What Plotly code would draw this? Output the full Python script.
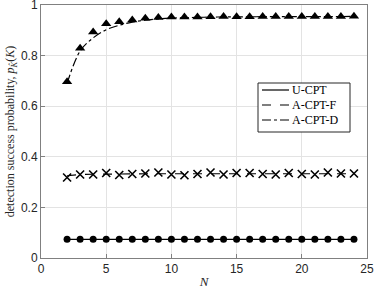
import plotly.graph_objects as go

N = list(range(2, 25))
u_cpt = [0.074] * 23
a_cpt_f_markers = [0.318, 0.330, 0.330, 0.336, 0.328, 0.332, 0.334, 0.338, 0.330, 0.327, 0.332,
                   0.338, 0.330, 0.336, 0.336, 0.332, 0.330, 0.336, 0.332, 0.330, 0.338, 0.334, 0.334]
a_cpt_f_line = [0.325, 0.330, 0.331, 0.332, 0.332, 0.333, 0.333, 0.333, 0.333, 0.333, 0.333,
                0.333, 0.333, 0.333, 0.333, 0.333, 0.333, 0.333, 0.333, 0.333, 0.333, 0.333, 0.333]
a_cpt_d_markers = [0.697, 0.829, 0.893, 0.926, 0.934, 0.941, 0.948, 0.951, 0.953, 0.953, 0.953,
                   0.954, 0.955, 0.954, 0.954, 0.955, 0.955, 0.955, 0.955, 0.955, 0.955, 0.955, 0.956]
a_cpt_d_line = [0.690, 0.818, 0.870, 0.902, 0.920, 0.932, 0.940, 0.945, 0.948, 0.950, 0.951,
                0.952, 0.953, 0.953, 0.953, 0.954, 0.954, 0.954, 0.954, 0.954, 0.954, 0.954, 0.955]

x_ticks = [0, 5, 10, 15, 20, 25]
y_ticks = [0, 0.2, 0.4, 0.6, 0.8, 1]
y_tick_labels = ["0", "0.2", "0.4", "0.6", "0.8", "1"]

series_names = ["U-CPT", "A-CPT-F", "A-CPT-D"]
series_dashes = ["solid", "dash", "dashdot"]

fig = go.Figure()
serif = "Liberation Serif, DejaVu Serif, serif"
sans = "Liberation Sans, Arial, sans-serif"

# lines
fig.add_trace(go.Scatter(x=N, y=u_cpt, mode="lines", name=series_names[0], showlegend=False,
                         line=dict(color="black", width=1.2)))
fig.add_trace(go.Scatter(x=N, y=a_cpt_f_line, mode="lines", name=series_names[1], showlegend=False,
                         line=dict(color="black", width=1.2, dash="dash")))
fig.add_trace(go.Scatter(x=N, y=a_cpt_d_line, mode="lines", name=series_names[2], showlegend=False,
                         line=dict(color="black", width=1.2, dash="dashdot", shape="spline")))
# markers
fig.add_trace(go.Scatter(x=N, y=u_cpt, mode="markers", showlegend=False,
                         marker=dict(symbol="circle", size=7, color="black")))
fig.add_trace(go.Scatter(x=N, y=a_cpt_f_markers, mode="markers", showlegend=False,
                         marker=dict(symbol="x-thin", size=8, color="black",
                                     line=dict(width=1.6, color="black"))))
fig.add_trace(go.Scatter(x=N, y=a_cpt_d_markers, mode="markers", showlegend=False,
                         marker=dict(symbol="triangle-up", size=9, color="black")))

axis_common = dict(showgrid=True, gridcolor="#e3e3e3", gridwidth=1,
                   showline=True, linecolor="#808080", linewidth=1, mirror=True,
                   ticks="inside", ticklen=4, tickcolor="#808080",
                   tickfont=dict(family=sans, size=12, color="#262626"), zeroline=False,
                   ticklabeloverflow="allow", automargin=False)

L, R, T, B = 41, 7, 5, 34
W, H = 374, 292
pw, ph = W - L - R, H - T - B

def px(xp):
    return (xp - L) / pw

def py(yp):
    return (H - B - yp) / ph

# manual legend box (MATLAB style, compact)
shapes = [dict(type="rect", xref="paper", yref="paper",
               x0=px(258), x1=px(350), y0=py(132), y1=py(83),
               line=dict(color="#262626", width=1), fillcolor="white", layer="above")]
annotations = []
row_y = [90, 105, 120]
for name, dash, ry in zip(series_names, series_dashes, row_y):
    shapes.append(dict(type="line", xref="paper", yref="paper",
                       x0=px(262), x1=px(289), y0=py(ry), y1=py(ry),
                       line=dict(color="black", width=1.2, dash=dash), layer="above"))
    annotations.append(dict(text=name, xref="paper", yref="paper", x=px(290), y=py(ry),
                            xanchor="left", yanchor="middle", showarrow=False,
                            font=dict(family=serif, size=12, color="black")))

fig.update_layout(
    width=W, height=H,
    margin=dict(l=L, r=R, t=T, b=B),
    paper_bgcolor="white", plot_bgcolor="white",
    xaxis=dict(range=[0, 25], tickvals=x_ticks,
               title=dict(text="<i>N</i>", font=dict(family=serif, size=13, color="#262626"), standoff=1),
               **axis_common),
    yaxis=dict(range=[0, 1], tickvals=y_ticks, ticktext=y_tick_labels,
               title=dict(text="detection success probability, <i>p</i><sub><i>K̂</i></sub>(<i>K</i>)",
                          font=dict(family=serif, size=12, color="#262626"), standoff=3),
               **axis_common),
    shapes=shapes,
    annotations=annotations,
    showlegend=False,
)

fig.write_html("out.html", config={"displayModeBar": False},
               post_script="document.body.style.margin='0';document.body.style.overflow='hidden';")
